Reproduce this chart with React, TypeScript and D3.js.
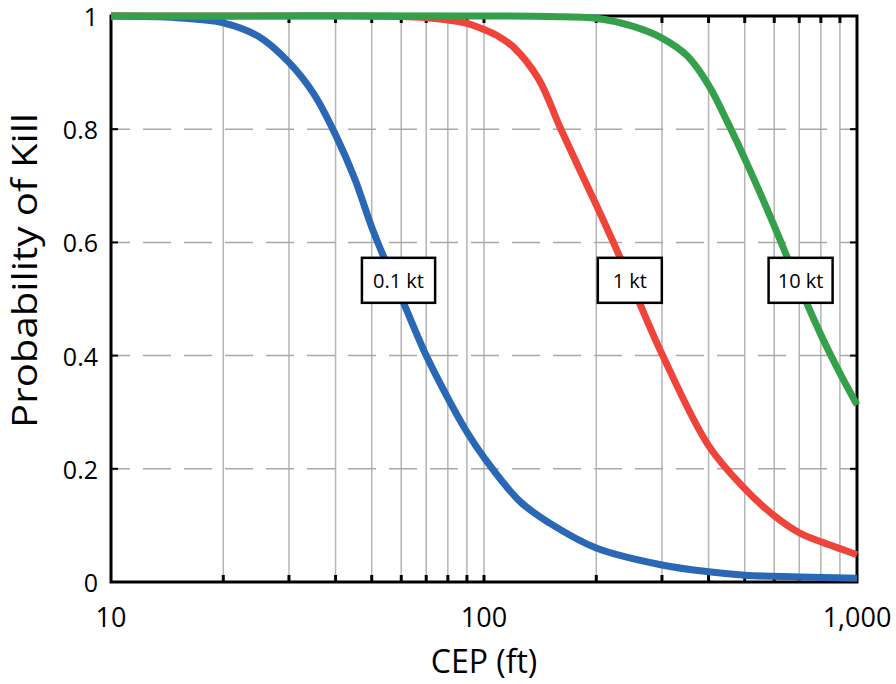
import React from 'react';
import * as d3 from 'd3';

// CEP (ft) axis
const cepMajor = [10, 100, 1000];
const cepMajorLabels = ['10', '100', '1,000'];
const cepMinor = [20, 30, 40, 50, 60, 70, 80, 90, 100, 200, 300, 400, 500, 600, 700, 800, 900];

// probability axis
const pkTicks = [0, 0.2, 0.4, 0.6, 0.8, 1];
const pkTickLabels = ['0', '0.2', '0.4', '0.6', '0.8', '1'];
const pkGrid = [0.2, 0.4, 0.6, 0.8];

// 0.1 kt
const cep01 = [10, 15, 20, 25, 30, 35, 40, 45, 50, 55, 60, 70, 80, 90, 100, 125, 150, 200, 300, 400, 500, 700, 1000];
const pk01 = [1, 0.997, 0.988, 0.963, 0.918, 0.862, 0.79, 0.713, 0.627, 0.56, 0.503, 0.4, 0.325, 0.265, 0.22, 0.142, 0.104, 0.06, 0.03, 0.018, 0.012, 0.009, 0.0065];

// 1 kt
const cep1 = [10, 40, 60, 70, 80, 90, 100, 110, 120, 140, 160, 180, 200, 230, 260, 300, 400, 500, 600, 700, 800, 900, 1000];
const pk1 = [1, 1, 0.999, 0.997, 0.993, 0.987, 0.976, 0.963, 0.945, 0.889, 0.803, 0.73, 0.666, 0.578, 0.496, 0.403, 0.241, 0.165, 0.117, 0.087, 0.071, 0.059, 0.048];

// 10 kt
const cep10 = [10, 100, 150, 200, 250, 300, 350, 400, 450, 500, 550, 600, 700, 800, 900, 1000];
const pk10 = [1, 1, 0.999, 0.996, 0.982, 0.961, 0.93, 0.878, 0.812, 0.748, 0.687, 0.629, 0.523, 0.437, 0.369, 0.313];

const seriesNames = ['0.1 kt', '1 kt', '10 kt'];
const labelCep = [59, 246, 706];
const labelPk = [0.533, 0.533, 0.533];

const W = 896, H = 684;
const margin = { top: 16, right: 39, bottom: 102, left: 111 };
const font = '"Open Sans", "Noto Sans", sans-serif';

const App = () => {
	const x = d3.scaleLog().domain([10, 1000]).range([margin.left, W - margin.right]);
	const y = d3.scaleLinear().domain([0, 1]).range([H - margin.bottom, margin.top]);
	const [x0, x1] = x.range();
	const [y0, y1] = y.range();

	const line = d3.line<[number, number]>()
		.x(d => x(d[0]))
		.y(d => y(d[1]))
		.curve(d3.curveCatmullRom.alpha(0.5));

	const series = [
		{ cep: cep01, pk: pk01, color: '#2a67b5' },
		{ cep: cep1, pk: pk1, color: '#ee443a' },
		{ cep: cep10, pk: pk10, color: '#35a04c' },
	];

	return (
		<svg width={W} height={H} style={{ position: 'absolute', left: 0, top: 0, fontFamily: font }}>
			<rect width={W} height={H} fill='white' />

			{/* grid */}
			{cepMinor.map(c => (
				<line key={'vg' + c} x1={x(c)} x2={x(c)} y1={y1} y2={y0} stroke='#b4b4b4' strokeWidth={1.5} />
			))}
			{pkGrid.map(p => (
				<line key={'hg' + p} x1={x0} x2={x1} y1={y(p)} y2={y(p)} stroke='#a8a8a8' strokeWidth={1.5}
					strokeDasharray='28 13' strokeDashoffset={9} />
			))}

			{/* ticks, inward */}
			{cepMinor.map(c => (
				<g key={'t' + c} stroke='black' strokeWidth={3}>
					<line x1={x(c)} x2={x(c)} y1={y0} y2={y0 - 7} />
					<line x1={x(c)} x2={x(c)} y1={y1} y2={y1 + 7} />
				</g>
			))}
			{pkGrid.map(p => (
				<g key={'yt' + p} stroke='black' strokeWidth={2}>
					<line x1={x0} x2={x0 + 7} y1={y(p)} y2={y(p)} />
					<line x1={x1} x2={x1 - 7} y1={y(p)} y2={y(p)} />
				</g>
			))}

			<rect x={x0} y={y1} width={x1 - x0} height={y0 - y1} fill='none' stroke='black' strokeWidth={3} />

			{/* curves */}
			{series.map((s, i) => (
				<path key={i} d={line(s.cep.map((c, j) => [c, s.pk[j]] as [number, number])) || ''}
					fill='none' stroke={s.color} strokeWidth={7} strokeLinejoin='round' />
			))}

			{/* labels */}
			{seriesNames.map((name, i) => {
				const w = Math.max(64, name.length * 9.2 + 18);
				const cx = x(labelCep[i]);
				const cy = y(labelPk[i]);
				return (
					<g key={name}>
						<rect x={cx - w / 2} y={cy - 22.5} width={w} height={45} fill='white' stroke='black' strokeWidth={2.5} />
						<text x={cx} y={cy} textAnchor='middle' dominantBaseline='central' fontSize={20} fill='black'>{name}</text>
					</g>
				);
			})}

			{/* axis labels */}
			{pkTicks.map((p, i) => (
				<text key={'yl' + p} x={98} y={y(p)} textAnchor='end' dominantBaseline='central' fontSize={25} fill='black'>
					{pkTickLabels[i]}
				</text>
			))}
			{cepMajor.map((c, i) => (
				<text key={'xl' + c} x={x(c)} y={627} textAnchor='middle' fontSize={27} fill='black'>
					{cepMajorLabels[i]}
				</text>
			))}
			<text x={(x0 + x1) / 2} y={673} textAnchor='middle' fontSize={32} fill='black'>CEP (ft)</text>
			<text transform={`translate(37 ${270.5}) rotate(-90)`} textAnchor='middle' fontSize={34} fill='black'
				textLength={315} lengthAdjust='spacingAndGlyphs'>Probability of Kill</text>
		</svg>
	);
};

export default App;
